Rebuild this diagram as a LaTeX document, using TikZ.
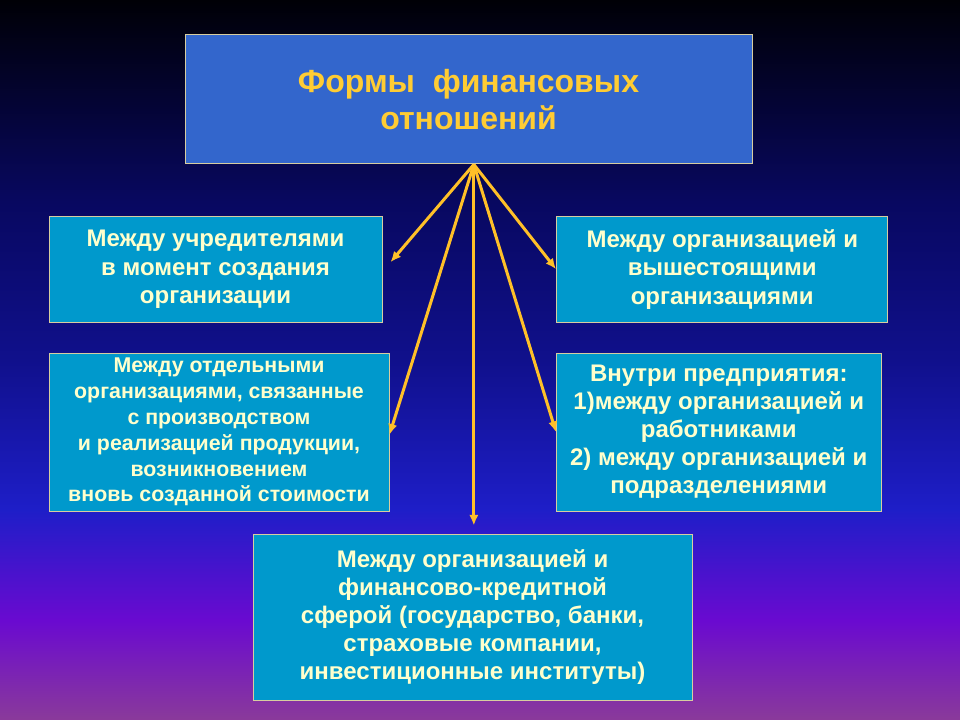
\documentclass[tikz,border=0pt]{standalone}
\usepackage{fontspec}
\setmainfont{Liberation Sans}
\usepackage{tikz}
\usetikzlibrary{arrows.meta}

\definecolor{headblue}{RGB}{51,102,204}
\definecolor{boxteal}{RGB}{0,153,204}
\definecolor{headtext}{RGB}{255,204,51}
\definecolor{boxtext}{RGB}{255,255,204}
\definecolor{rimline}{RGB}{215,205,160}
\definecolor{arrowgold}{RGB}{255,192,40}
\definecolor{bgtop}{RGB}{0,0,6}
\definecolor{bgnavy}{RGB}{8,8,96}
\definecolor{bgmid}{RGB}{16,16,140}
\definecolor{bgblue}{RGB}{30,30,200}
\definecolor{bgviolet}{RGB}{106,10,208}
\definecolor{bgbottom}{RGB}{138,58,154}

\pgfdeclareverticalshading{slidebg}{100bp}{color(0bp)=(bgbottom); color(25bp)=(bgbottom);
  color(31.9bp)=(bgviolet); color(39.6bp)=(bgblue); color(50bp)=(bgmid);
  color(61bp)=(bgnavy); color(75bp)=(bgtop); color(100bp)=(bgtop)}

\begin{document}
\begin{tikzpicture}[x=0.75pt, y=-0.75pt,
   formbox/.style={draw=rimline, line width=0.75pt, fill=boxteal, text=boxtext,
      align=center, inner sep=0pt},
   link/.style={draw=arrowgold, line width=2.25pt, -{Latex[length=8pt, width=7pt]}}]
   % background of the slide
   \shade[shading=slidebg] (0,0) rectangle (960,720);

   \node[formbox, fill=headblue, text=headtext, minimum width=425.25pt, minimum height=96.75pt,
      font=\bfseries\fontsize{24}{27.75}\selectfont] (head) at (468.5, 99.5)
      {Формы\ \ финансовых\\отношений};

   \node[formbox, minimum width=249.75pt, minimum height=79.5pt,
      font=\bfseries\fontsize{18}{21.4}\selectfont] (found) at (215.5, 269.5)
      {Между учредителями\\в момент создания\\организации};
   \node[formbox, minimum width=248.6pt, minimum height=79.5pt,
      font=\bfseries\fontsize{18}{21.4}\selectfont] (upper) at (722.25, 269.2)
      {Между организацией и\\вышестоящими\\организациями};
   \node[formbox, minimum width=255pt, minimum height=118.5pt,
      font=\bfseries\fontsize{16}{19.4}\selectfont] (prod) at (219, 432)
      {Между отдельными\\организациями, связанные\\с производством\\и реализацией продукции,\\возникновением\\вновь созданной стоимости};
   \node[formbox, minimum width=243.4pt, minimum height=118.5pt,
      font=\bfseries\fontsize{18}{21}\selectfont] (inner) at (718.75, 432)
      {Внутри предприятия:\\1)между организацией и\\работниками\\2) между организацией и\\подразделениями};
   \node[formbox, minimum width=329.25pt, minimum height=124.9pt,
      font=\bfseries\fontsize{18}{21}\selectfont] (fin) at (472.5, 617.3)
      {Между организацией и\\финансово-кредитной\\сферой (государство, банки,\\страховые компании,\\инвестиционные институты)};

   \coordinate (src) at ([xshift=4pt]head.south);
   \draw[link] (src) -- ([shift={(6pt,5.5pt)}]found.east);
   \draw[link] (src) -- (upper.west);
   \draw[link] (src) -- ([yshift=-2pt]prod.east);
   \draw[link] (src) -- (inner.west);
   \draw[link] (src) -- ([shift={(1pt,6pt)}]fin.north);
\end{tikzpicture}
\end{document}
